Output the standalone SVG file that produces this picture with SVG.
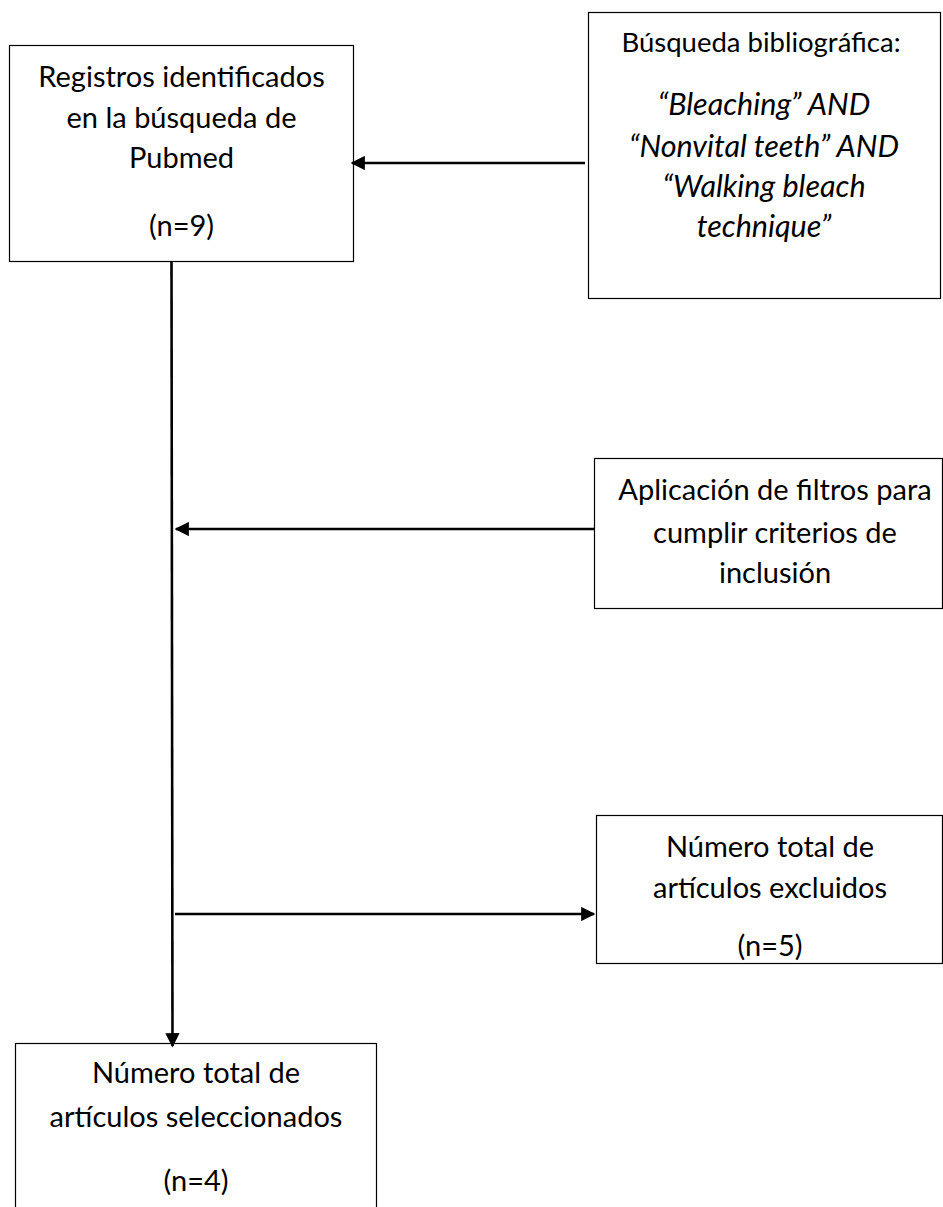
<svg xmlns="http://www.w3.org/2000/svg" width="943" height="1207" viewBox="0 0 943 1207">
<style>
.box{fill:#fff;stroke:#000;stroke-width:1.2}
.t{font-family:Lato,"Open Sans","Liberation Sans",sans-serif;font-size:29px;fill:#000;text-anchor:middle}
.i{font-style:italic;font-size:30.5px}
.s{font-size:27.5px}
.c{stroke:#000;stroke-width:2.6;fill:none}
</style>
<defs>
<marker id="ah" viewBox="0 0 10 10" refX="9" refY="5" markerWidth="6.5" markerHeight="5.5" orient="auto" markerUnits="strokeWidth">
<path d="M0,0 L10,5 L0,10 z" fill="#000"/>
</marker>
</defs>
<rect width="943" height="1207" fill="#fff"/>
<g id="n1">
<rect class="box" x="9.5" y="45.5" width="344" height="216"/>
<text class="t" x="181.5" y="87">Registros identificados</text>
<text class="t" x="181.5" y="128">en la búsqueda de</text>
<text class="t" x="181.5" y="168">Pubmed</text>
<text class="t" x="181.5" y="236">(n=9)</text>
</g>
<g id="n2">
<rect class="box" x="588.5" y="12.5" width="352" height="286"/>
<text class="t s" x="761" y="52">Búsqueda bibliográfica:</text>
<text class="t i" x="764" y="115">“Bleaching” AND</text>
<text class="t i" x="764" y="157">“Nonvital teeth” AND</text>
<text class="t i" x="764" y="197">“Walking bleach</text>
<text class="t i" x="764" y="237">technique”</text>
</g>
<g id="n3">
<rect class="box" x="594.5" y="458.5" width="348" height="150"/>
<text class="t" x="775" y="500">Aplicación de filtros para</text>
<text class="t" x="775" y="543">cumplir criterios de</text>
<text class="t" x="775" y="583">inclusión</text>
</g>
<g id="n4">
<rect class="box" x="596.5" y="815.5" width="346" height="148"/>
<text class="t" x="770" y="857">Número total de</text>
<text class="t" x="770" y="898">artículos excluidos</text>
<text class="t" x="770" y="956">(n=5)</text>
</g>
<g id="n5">
<rect class="box" x="15.5" y="1043.5" width="361" height="170"/>
<text class="t" x="196" y="1083">Número total de</text>
<text class="t" x="196" y="1127">artículos seleccionados</text>
<text class="t" x="196" y="1191">(n=4)</text>
</g>
<g id="connectors">
<line class="c" x1="585" y1="163" x2="352" y2="163" marker-end="url(#ah)"/>
<line class="c" x1="171.5" y1="262" x2="172.5" y2="1046" marker-end="url(#ah)"/>
<line class="c" x1="594" y1="529" x2="176" y2="529" marker-end="url(#ah)"/>
<line class="c" x1="175" y1="914" x2="594" y2="914" marker-end="url(#ah)"/>
</g>
</svg>
